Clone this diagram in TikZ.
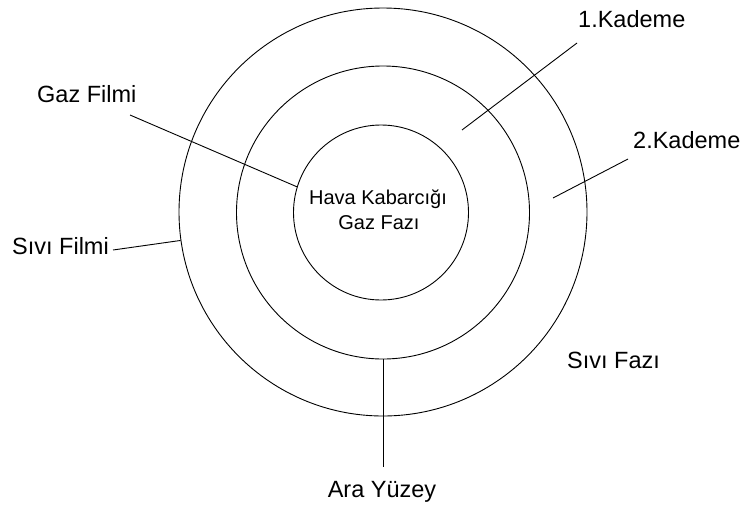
\documentclass[tikz,border=0pt]{standalone}
\usepackage{fontspec}
\setmainfont{Liberation Sans}
\begin{document}
\begin{tikzpicture}[x=1pt,y=-1pt,
  ring/.style={draw=black,line width=0.9pt,circle,inner sep=0pt},
  lbl/.style={inner sep=0pt,font=\fontsize{23.5}{28}\selectfont},
  inlbl/.style={inner sep=0pt,font=\fontsize{20}{24}\selectfont},
  conn/.style={draw=black,line width=0.9pt}]
\useasboundingbox (0,0) rectangle (747,504);
\node[ring,minimum size=408pt] (outer) at (383,212) {};
\node[ring,minimum size=293pt] (mid) at (383,212.5) {};
\node[ring,minimum size=175pt] (inner) at (381,212.5) {};
\node[inlbl,anchor=base] (t1) at (378,204) {Hava Kabarcığı};
\node[inlbl,anchor=base] (t2) at (379,229) {Gaz Fazı};
\node[lbl,anchor=base west] (k1) at (578,27) {1.Kademe};
\node[lbl,anchor=base west] (k2) at (633,148) {2.Kademe};
\node[lbl,anchor=base west] (gf) at (37,102) {Gaz Filmi};
\node[lbl,anchor=base west] (sf) at (12,254) {Sıvı Filmi};
\node[lbl,anchor=base] (ay) at (382,497) {Ara Yüzey};
\node[lbl,anchor=base west] (sfz) at (567,368) {Sıvı Fazı};
\coordinate (k1a) at (577,43);
\coordinate (k1b) at (462,130);
\coordinate (k2a) at (628,159);
\coordinate (k2b) at (553,198);
\coordinate (gfa) at (130,115);
\coordinate (sfa) at (113,250);
\coordinate (aya) at (383,467);
\draw[conn] (k1a) -- (k1b);
\draw[conn] (k2a) -- (k2b);
\draw[conn] (gfa) -- (inner.163);
\draw[conn] (sfa) -- (outer.188);
\draw[conn] (mid.south) -- (aya);
\end{tikzpicture}
\end{document}
